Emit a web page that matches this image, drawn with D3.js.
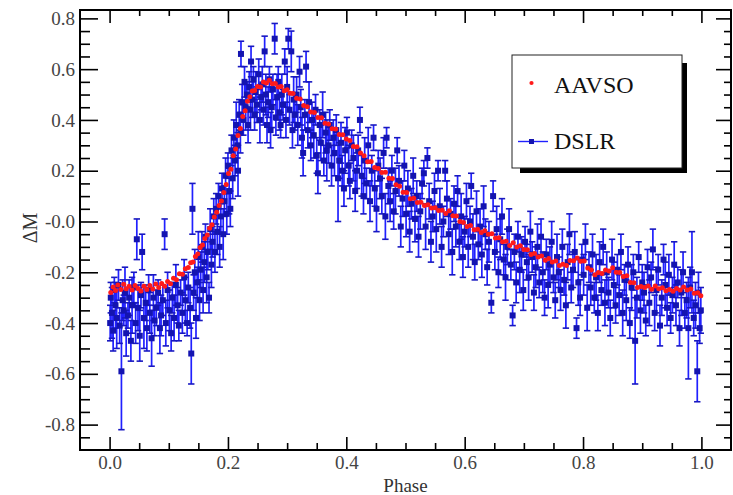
<!DOCTYPE html>
<html>
<head>
<meta charset="utf-8">
<script src="https://cdn.jsdelivr.net/npm/d3@7"></script>
<style>
  body { margin: 0; background: #fff; }
  text { font-family: "Liberation Serif", "DejaVu Serif", serif; }
</style>
</head>
<body>
<script>
// AAVSO light curve (phase, delta mag)
var aavsoPhase = [0.002,0.006,0.010,0.014,0.019,0.024,0.028,0.033,0.038,0.043,0.048,0.053,0.058,0.063,0.068,0.073,0.078,0.083,0.088,0.093,
  0.098,0.103,0.108,0.113,0.118,0.123,0.128,0.133,0.137,0.141,0.145,0.149,0.153,0.157,0.161,0.165,0.169,0.173,0.177,0.181,
  0.185,0.189,0.193,0.197,0.201,0.205,0.209,0.213,0.217,0.221,0.225,0.229,0.233,0.237,0.241,0.245,0.250,0.255,0.260,0.265,
  0.270,0.275,0.280,0.285,0.290,0.295,0.300,0.305,0.310,0.316,0.322,0.328,0.334,0.340,0.346,0.352,0.358,0.364,0.370,0.376,
  0.382,0.388,0.394,0.400,0.406,0.412,0.418,0.424,0.430,0.436,0.442,0.448,0.454,0.460,0.466,0.472,0.478,0.484,0.490,0.496,
  0.502,0.508,0.514,0.520,0.526,0.532,0.538,0.544,0.550,0.556,0.562,0.568,0.574,0.580,0.586,0.592,0.598,0.604,0.610,0.616,
  0.622,0.628,0.634,0.640,0.646,0.652,0.658,0.664,0.670,0.676,0.682,0.688,0.694,0.700,0.706,0.712,0.718,0.724,0.730,0.736,
  0.742,0.748,0.754,0.760,0.766,0.772,0.778,0.784,0.790,0.796,0.802,0.808,0.814,0.820,0.826,0.832,0.838,0.844,0.850,0.856,
  0.862,0.868,0.874,0.880,0.886,0.892,0.898,0.904,0.910,0.916,0.922,0.928,0.934,0.940,0.946,0.952,0.958,0.964,0.970,0.976,
  0.982,0.988,0.994,0.999];
var aavsoMag = [-0.280,-0.258,-0.272,-0.250,-0.268,-0.247,-0.265,-0.255,-0.270,-0.252,-0.264,-0.274,-0.255,-0.268,-0.252,-0.266,-0.246,-0.260,-0.244,-0.255,
  -0.236,-0.245,-0.224,-0.229,-0.206,-0.208,-0.186,-0.181,-0.162,-0.160,-0.138,-0.128,-0.102,-0.093,-0.067,-0.053,-0.027,-0.013,0.018,0.036,
  0.063,0.081,0.114,0.146,0.189,0.206,0.259,0.286,0.339,0.366,0.414,0.436,0.474,0.491,0.514,0.516,0.532,0.530,0.549,0.545,
  0.556,0.543,0.544,0.530,0.532,0.515,0.519,0.505,0.504,0.485,0.482,0.457,0.452,0.431,0.429,0.410,0.409,0.387,0.384,0.365,
  0.364,0.343,0.342,0.325,0.319,0.295,0.294,0.270,0.259,0.235,0.236,0.213,0.209,0.193,0.194,0.170,0.169,0.145,0.139,0.115,
  0.114,0.090,0.092,0.075,0.076,0.063,0.066,0.053,0.054,0.043,0.044,0.031,0.042,0.023,0.022,0.000,-0.004,-0.020,-0.016,-0.033,
  -0.031,-0.043,-0.036,-0.050,-0.048,-0.065,-0.064,-0.080,-0.078,-0.095,-0.084,-0.100,-0.096,-0.110,-0.111,-0.130,-0.126,-0.140,-0.136,-0.153,
  -0.146,-0.160,-0.156,-0.173,-0.168,-0.173,-0.154,-0.155,-0.144,-0.157,-0.156,-0.183,-0.191,-0.210,-0.201,-0.205,-0.191,-0.195,-0.182,-0.200,
  -0.201,-0.217,-0.214,-0.240,-0.241,-0.260,-0.256,-0.260,-0.254,-0.267,-0.254,-0.265,-0.261,-0.273,-0.268,-0.275,-0.264,-0.270,-0.258,-0.270,
  -0.266,-0.283,-0.281,-0.292];

// DSLR points: phase, delta mag, error
var dslrPhase = [0.001,0.002,0.004,0.006,0.008,0.010,0.012,0.015,0.017,0.020,0.022,0.024,0.026,0.028,0.031,0.033,0.036,0.038,0.041,0.044,
  0.046,0.048,0.051,0.053,0.055,0.058,0.061,0.063,0.066,0.068,0.071,0.074,0.076,0.079,0.082,0.085,0.087,0.090,0.093,0.095,
  0.098,0.101,0.104,0.106,0.109,0.112,0.115,0.117,0.120,0.123,0.126,0.128,0.131,0.133,0.136,0.138,0.140,0.142,0.144,0.146,
  0.148,0.150,0.152,0.154,0.156,0.158,0.160,0.162,0.164,0.166,0.168,0.170,0.172,0.174,0.176,0.178,0.180,0.182,0.184,0.186,
  0.188,0.190,0.192,0.194,0.196,0.198,0.200,0.202,0.204,0.206,0.208,0.210,0.212,0.214,0.216,0.217,0.219,0.221,0.222,0.224,
  0.226,0.228,0.230,0.232,0.234,0.236,0.238,0.239,0.241,0.243,0.245,0.247,0.249,0.252,0.254,0.256,0.258,0.260,0.262,0.264,
  0.266,0.268,0.270,0.272,0.274,0.276,0.279,0.281,0.283,0.285,0.287,0.289,0.291,0.293,0.296,0.298,0.300,0.302,0.304,0.307,
  0.309,0.311,0.313,0.316,0.318,0.321,0.323,0.325,0.327,0.330,0.332,0.335,0.337,0.340,0.342,0.345,0.348,0.350,0.352,0.355,
  0.357,0.360,0.362,0.365,0.367,0.370,0.372,0.375,0.378,0.380,0.383,0.386,0.388,0.391,0.393,0.396,0.398,0.401,0.404,0.406,
  0.409,0.412,0.415,0.418,0.420,0.423,0.426,0.429,0.431,0.434,0.437,0.440,0.443,0.446,0.448,0.451,0.454,0.457,0.460,0.463,
  0.466,0.468,0.471,0.474,0.477,0.480,0.483,0.486,0.489,0.492,0.495,0.498,0.501,0.504,0.507,0.510,0.513,0.516,0.519,0.522,
  0.525,0.528,0.531,0.534,0.537,0.540,0.543,0.546,0.549,0.552,0.555,0.558,0.561,0.564,0.567,0.570,0.573,0.576,0.579,0.582,
  0.585,0.588,0.591,0.594,0.597,0.600,0.603,0.606,0.609,0.611,0.614,0.617,0.620,0.623,0.626,0.629,0.632,0.635,0.638,0.641,
  0.645,0.648,0.651,0.654,0.657,0.660,0.663,0.666,0.669,0.672,0.675,0.678,0.681,0.684,0.687,0.690,0.693,0.696,0.699,0.702,
  0.705,0.708,0.711,0.714,0.717,0.720,0.723,0.726,0.729,0.732,0.735,0.738,0.741,0.744,0.747,0.750,0.753,0.756,0.759,0.762,
  0.765,0.768,0.771,0.774,0.777,0.780,0.783,0.786,0.789,0.792,0.795,0.798,0.801,0.804,0.807,0.810,0.813,0.816,0.819,0.822,
  0.825,0.828,0.831,0.834,0.837,0.840,0.843,0.846,0.849,0.852,0.855,0.858,0.861,0.864,0.867,0.870,0.873,0.876,0.879,0.882,
  0.885,0.888,0.891,0.894,0.897,0.900,0.903,0.906,0.909,0.912,0.915,0.918,0.921,0.924,0.927,0.930,0.933,0.936,0.939,0.942,
  0.945,0.948,0.951,0.954,0.957,0.960,0.963,0.966,0.969,0.972,0.975,0.978,0.981,0.984,0.987,0.990,0.993,0.995,0.997,0.999];
var dslrMag = [-0.40,-0.30,-0.36,-0.43,-0.27,-0.33,-0.38,-0.25,-0.41,-0.59,-0.31,-0.35,-0.28,-0.44,-0.37,-0.30,-0.47,-0.33,-0.26,-0.40,
  -0.07,-0.34,-0.45,-0.29,-0.12,-0.38,-0.32,-0.42,-0.27,-0.36,-0.46,-0.30,-0.39,-0.34,-0.28,-0.42,-0.37,-0.31,-0.05,-0.40,
  -0.27,-0.35,-0.44,-0.30,-0.38,-0.25,-0.33,-0.41,-0.28,-0.36,-0.22,-0.31,-0.40,-0.26,-0.34,-0.52,0.05,-0.28,-0.20,-0.38,
  -0.24,-0.14,-0.31,-0.19,-0.10,-0.27,-0.16,-0.06,-0.22,-0.12,-0.30,-0.03,-0.17,-0.08,0.02,-0.12,0.05,-0.04,0.10,-0.10,
  0.02,0.13,-0.05,0.08,0.18,0.03,0.22,0.12,0.05,0.28,0.17,0.33,0.24,0.38,0.30,0.20,0.42,0.35,0.66,0.47,
  0.40,0.55,0.45,0.50,0.38,0.53,0.44,0.63,0.48,0.56,0.42,0.51,0.46,0.58,0.40,0.49,0.54,0.44,0.67,0.50,
  0.38,0.47,0.56,0.36,0.45,0.52,0.72,0.41,0.49,0.55,0.43,0.38,0.50,0.46,0.63,0.40,0.53,0.72,0.44,0.67,
  0.36,0.48,0.42,0.50,0.38,0.59,0.45,0.33,0.27,0.42,0.61,0.36,0.47,0.30,0.40,0.34,0.44,0.26,0.19,0.38,
  0.31,0.42,0.24,0.35,0.28,0.30,0.38,0.22,0.33,0.27,0.36,0.17,0.24,0.31,0.20,0.13,0.28,0.35,0.22,0.16,
  0.30,0.25,0.12,0.20,0.28,0.40,0.18,0.10,0.24,0.15,0.30,0.08,0.20,0.33,0.13,0.05,0.22,0.17,0.10,0.27,
  0.02,0.33,0.14,0.08,0.20,0.04,0.12,0.28,0.16,-0.02,0.09,0.22,0.03,0.13,-0.04,0.07,0.18,0.01,0.10,-0.06,
  0.04,0.15,0.19,-0.02,0.25,0.08,-0.08,0.02,0.12,-0.03,0.20,0.06,-0.10,0.00,0.20,0.09,-0.05,0.03,-0.12,0.07,
  -0.02,0.12,-0.08,0.02,-0.14,-0.04,0.08,-0.10,0.00,0.14,-0.06,-0.16,0.04,-0.09,-0.02,-0.13,0.06,-0.05,-0.18,-0.08,
  -0.32,0.10,-0.12,-0.03,-0.20,-0.07,0.02,-0.15,-0.22,-0.10,-0.03,-0.17,-0.37,-0.12,-0.24,-0.06,-0.19,-0.13,-0.27,-0.08,
  -0.16,-0.22,-0.04,-0.14,-0.28,-0.18,-0.10,-0.24,-0.06,-0.20,-0.30,-0.13,-0.25,-0.17,-0.08,-0.22,-0.31,-0.14,-0.20,-0.27,
  -0.10,-0.23,-0.33,-0.16,-0.05,-0.26,-0.19,-0.12,-0.42,-0.24,-0.30,-0.15,-0.21,-0.08,-0.34,-0.18,-0.26,-0.13,-0.30,-0.22,
  -0.36,-0.16,-0.27,-0.10,-0.32,-0.20,-0.28,-0.38,-0.15,-0.25,-0.33,-0.19,-0.29,-0.12,-0.36,-0.23,-0.31,-0.17,-0.40,-0.26,
  -0.20,-0.47,-0.30,-0.14,-0.35,-0.24,-0.28,-0.39,-0.18,-0.32,-0.22,-0.11,-0.36,-0.27,-0.19,-0.41,-0.30,-0.15,-0.25,-0.34,
  -0.21,-0.38,-0.29,-0.17,-0.33,-0.24,-0.42,-0.28,-0.20,-0.36,-0.31,-0.42,-0.26,-0.20,-0.38,-0.33,-0.59,-0.28,-0.42,-0.35];
var dslrErr = [0.07,0.06,0.10,0.08,0.05,0.09,0.12,0.06,0.07,0.23,0.08,0.06,0.10,0.09,0.05,0.07,0.08,0.11,0.06,0.08,
  0.08,0.09,0.10,0.05,0.07,0.12,0.07,0.09,0.06,0.08,0.11,0.09,0.06,0.07,0.05,0.10,0.08,0.06,0.06,0.09,
  0.07,0.08,0.07,0.06,0.09,0.08,0.07,0.06,0.05,0.08,0.07,0.09,0.05,0.06,0.08,0.12,0.10,0.07,0.09,0.08,
  0.06,0.10,0.08,0.07,0.06,0.09,0.08,0.05,0.10,0.07,0.06,0.08,0.09,0.06,0.07,0.08,0.06,0.09,0.05,0.08,
  0.07,0.06,0.10,0.06,0.07,0.08,0.05,0.09,0.07,0.06,0.08,0.07,0.06,0.09,0.05,0.10,0.06,0.08,0.05,0.07,
  0.06,0.06,0.09,0.05,0.07,0.06,0.08,0.06,0.07,0.05,0.06,0.08,0.07,0.06,0.09,0.05,0.07,0.06,0.06,0.08,
  0.07,0.06,0.05,0.07,0.08,0.06,0.06,0.07,0.09,0.06,0.07,0.05,0.08,0.06,0.05,0.07,0.08,0.04,0.06,0.08,
  0.07,0.09,0.06,0.07,0.08,0.06,0.07,0.08,0.09,0.06,0.06,0.07,0.08,0.06,0.07,0.09,0.06,0.07,0.08,0.06,
  0.07,0.09,0.06,0.08,0.12,0.07,0.06,0.08,0.07,0.09,0.06,0.17,0.07,0.08,0.06,0.07,0.09,0.06,0.08,0.07,
  0.06,0.09,0.08,0.07,0.06,0.05,0.08,0.07,0.09,0.06,0.07,0.08,0.06,0.05,0.07,0.09,0.06,0.08,0.07,0.06,
  0.09,0.04,0.07,0.08,0.06,0.07,0.09,0.05,0.06,0.08,0.07,0.06,0.09,0.07,0.08,0.06,0.07,0.09,0.06,0.08,
  0.07,0.06,0.05,0.09,0.04,0.07,0.08,0.06,0.07,0.09,0.04,0.07,0.08,0.06,0.04,0.07,0.08,0.06,0.09,0.07,
  0.08,0.06,0.07,0.09,0.08,0.06,0.07,0.08,0.06,0.05,0.09,0.07,0.08,0.06,0.07,0.09,0.08,0.06,0.07,0.08,
  0.04,0.06,0.07,0.09,0.06,0.08,0.07,0.06,0.09,0.07,0.08,0.06,0.04,0.07,0.08,0.06,0.09,0.07,0.08,0.06,
  0.07,0.09,0.08,0.06,0.07,0.08,0.09,0.06,0.07,0.08,0.07,0.06,0.09,0.07,0.08,0.06,0.07,0.09,0.06,0.08,
  0.07,0.06,0.09,0.07,0.08,0.06,0.07,0.08,0.04,0.09,0.07,0.06,0.08,0.07,0.09,0.06,0.07,0.08,0.06,0.09,
  0.07,0.08,0.06,0.07,0.09,0.08,0.06,0.07,0.08,0.09,0.07,0.06,0.08,0.07,0.09,0.06,0.08,0.07,0.06,0.09,
  0.07,0.17,0.08,0.06,0.09,0.07,0.08,0.06,0.07,0.09,0.06,0.08,0.07,0.09,0.06,0.08,0.07,0.06,0.09,0.07,
  0.08,0.06,0.07,0.09,0.08,0.06,0.07,0.09,0.08,0.06,0.07,0.20,0.08,0.16,0.07,0.09,0.12,0.08,0.06,0.09];

var xTicks = [0.0, 0.2, 0.4, 0.6, 0.8, 1.0];
var xTickLabels = ["0.0", "0.2", "0.4", "0.6", "0.8", "1.0"];
var yTicks = [-0.8, -0.6, -0.4, -0.2, 0.0, 0.2, 0.4, 0.6, 0.8];
var yTickLabels = ["-0.8", "-0.6", "-0.4", "-0.2", "-0.0", "0.2", "0.4", "0.6", "0.8"];
var seriesNames = ["AAVSO", "DSLR"];

var width = 733, height = 495;
var plotL = 80, plotR = 731, plotT = 10, plotB = 450;

var svg = d3.select("body").append("svg")
    .attr("width", width)
    .attr("height", height);

var x = d3.scaleLinear().domain([-0.05, 1.05]).range([plotL, plotR]);
var y = d3.scaleLinear().domain([-0.9, 0.833]).range([plotB, plotT]);

var aavso = aavsoPhase.map(function(p, i) { return {p: p, m: aavsoMag[i]}; });
var dslr = dslrPhase.map(function(p, i) { return {p: p, m: dslrMag[i], e: dslrErr[i]}; });

var barColor = "#2020ff", capColor = "#1818c0", boxColor = "#1414b0", redColor = "#ff1a1a";

// dslr error bars
var bars = svg.append("g");
bars.selectAll("line.err")
    .data(dslr)
    .enter().append("line")
    .attr("x1", function(d) { return x(d.p); })
    .attr("x2", function(d) { return x(d.p); })
    .attr("y1", function(d) { return y(d.m - d.e); })
    .attr("y2", function(d) { return y(d.m + d.e); })
    .attr("stroke", barColor)
    .attr("stroke-width", 1.7);

[1, -1].forEach(function(s) {
  bars.selectAll("line.cap" + s)
      .data(dslr)
      .enter().append("line")
      .attr("x1", function(d) { return x(d.p) - 3.2; })
      .attr("x2", function(d) { return x(d.p) + 3.2; })
      .attr("y1", function(d) { return y(d.m + s * d.e); })
      .attr("y2", function(d) { return y(d.m + s * d.e); })
      .attr("stroke", capColor)
      .attr("stroke-width", 1.6);
});

svg.append("g").selectAll("rect")
    .data(dslr)
    .enter().append("rect")
    .attr("x", function(d) { return x(d.p) - 3; })
    .attr("y", function(d) { return y(d.m) - 3; })
    .attr("width", 6)
    .attr("height", 6)
    .attr("fill", boxColor);

svg.append("g").selectAll("circle")
    .data(aavso)
    .enter().append("circle")
    .attr("cx", function(d) { return x(d.p); })
    .attr("cy", function(d) { return y(d.m); })
    .attr("r", 2.5)
    .attr("fill", redColor);

// frame
svg.append("rect")
    .attr("x", plotL).attr("y", plotT)
    .attr("width", plotR - plotL).attr("height", plotB - plotT)
    .attr("fill", "none").attr("stroke", "#000").attr("stroke-width", 2);

function clean(g) {
  g.select(".domain").remove();
  g.selectAll(".tick line").attr("stroke", "#000").attr("stroke-width", 1.6);
}

var xMinor = d3.range(0.05, 1.01, 0.05).filter(function(v) { return Math.abs(v * 5 - Math.round(v * 5)) > 0.01; });
var yMinor = d3.range(-0.85, 0.81, 0.05).filter(function(v) { return Math.abs(v * 5 - Math.round(v * 5)) > 0.01; });

// bottom
svg.append("g").attr("transform", "translate(0," + plotB + ")")
    .call(d3.axisBottom(x).tickValues(xTicks).tickSize(-13).tickPadding(6)
      .tickFormat(function(d, i) { return xTickLabels[i]; }))
    .call(clean)
    .selectAll("text").attr("font-size", 19).attr("fill", "#444")
    .attr("font-family", "Liberation Serif, serif");
svg.append("g").attr("transform", "translate(0," + plotB + ")")
    .call(d3.axisBottom(x).tickValues(xMinor).tickSize(-7).tickFormat(""))
    .call(clean);
// top
svg.append("g").attr("transform", "translate(0," + plotT + ")")
    .call(d3.axisTop(x).tickValues(xTicks).tickSize(-13).tickFormat(""))
    .call(clean);
svg.append("g").attr("transform", "translate(0," + plotT + ")")
    .call(d3.axisTop(x).tickValues(xMinor).tickSize(-6).tickFormat(""))
    .call(clean);
// left
svg.append("g").attr("transform", "translate(" + plotL + ",0)")
    .call(d3.axisLeft(y).tickValues(yTicks).tickSize(-18).tickPadding(5)
      .tickFormat(function(d, i) { return yTickLabels[i]; }))
    .call(clean)
    .selectAll("text").attr("font-size", 19).attr("fill", "#444")
    .attr("font-family", "Liberation Serif, serif");
svg.append("g").attr("transform", "translate(" + plotL + ",0)")
    .call(d3.axisLeft(y).tickValues(yMinor).tickSize(-10).tickFormat(""))
    .call(clean);
// right
svg.append("g").attr("transform", "translate(" + plotR + ",0)")
    .call(d3.axisRight(y).tickValues(yTicks).tickSize(-15).tickFormat(""))
    .call(clean);
svg.append("g").attr("transform", "translate(" + plotR + ",0)")
    .call(d3.axisRight(y).tickValues(yMinor).tickSize(-7).tickFormat(""))
    .call(clean);

// axis titles
svg.append("text")
    .attr("x", (plotL + plotR) / 2).attr("y", 492)
    .attr("text-anchor", "middle")
    .attr("font-size", 19).attr("fill", "#333")
    .text("Phase");
svg.append("text")
    .attr("transform", "translate(37," + ((plotT + plotB) / 2 - 2) + ") rotate(-90)")
    .attr("text-anchor", "middle")
    .attr("font-size", 20).attr("fill", "#333")
    .text("\u0394M");

// legend
var lg = svg.append("g");
lg.append("rect").attr("x", 520).attr("y", 63).attr("width", 167).attr("height", 110).attr("fill", "#000");
lg.append("rect").attr("x", 512).attr("y", 55).attr("width", 170).attr("height", 113)
    .attr("fill", "#fff").attr("stroke", "#222").attr("stroke-width", 1);
lg.append("circle").attr("cx", 531.5).attr("cy", 83).attr("r", 2.1).attr("fill", redColor);
lg.append("text").attr("x", 554).attr("y", 93).attr("font-size", 24).attr("fill", "#111").text(seriesNames[0]);
lg.append("line").attr("x1", 518).attr("x2", 548).attr("y1", 141.5).attr("y2", 141.5)
    .attr("stroke", barColor).attr("stroke-width", 1.4);
lg.append("rect").attr("x", 529).attr("y", 139).attr("width", 5).attr("height", 5).attr("fill", boxColor);
lg.append("text").attr("x", 554).attr("y", 149).attr("font-size", 24).attr("fill", "#111").text(seriesNames[1]);
</script>
</body>
</html>
